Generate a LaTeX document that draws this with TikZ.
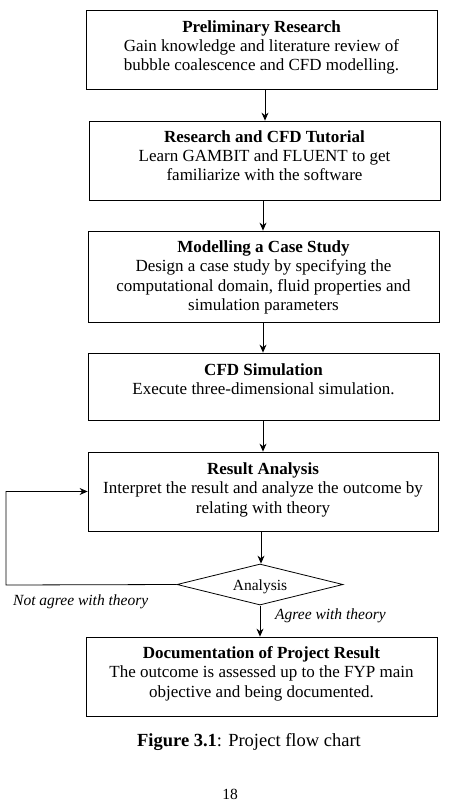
\documentclass[tikz,border=0pt]{standalone}
\usepackage{fontspec}
\setmainfont{Liberation Serif}
\usetikzlibrary{shapes.geometric,arrows.meta}
\begin{document}
\begin{tikzpicture}[x=1pt,y=-1pt,
  box/.style={draw,line width=0.8pt,rectangle,minimum width=351pt,inner sep=0pt},
  txt/.style={anchor=north,align=center,font=\fontsize{17}{19.2}\selectfont,inner sep=0pt},
  arr/.style={line width=0.8pt,-{Stealth[length=8pt,width=7pt]}},
  lab/.style={font=\fontsize{15.5}{17}\selectfont\itshape,inner sep=0pt}]
\useasboundingbox (0,0) rectangle (448,803);
\node[box,minimum height=79pt] (b1) at (261.5,49.5) {};
\node[txt] (t1) at ([yshift=-11pt]b1.north) {\textbf{Preliminary Research}\\Gain knowledge and literature review of\\bubble coalescence and CFD modelling.};
\node[box,minimum height=79pt] (b2) at (264.5,160.5) {};
\node[txt] (t2) at ([yshift=-10pt]b2.north) {\textbf{Research and CFD Tutorial}\\Learn GAMBIT and FLUENT to get\\familiarize with the software};
\node[box,minimum height=91pt] (b3) at (263.5,276.5) {};
\node[txt] (t3) at ([yshift=-10pt]b3.north) {\textbf{Modelling a Case Study}\\Design a case study by specifying the\\computational domain, fluid properties and\\simulation parameters};
\node[box,minimum height=67pt] (b4) at (263.5,386.5) {};
\node[txt] (t4) at ([yshift=-11pt]b4.north) {\textbf{CFD Simulation}\\Execute three-dimensional simulation.};
\node[box,minimum height=79pt,minimum width=350pt] (b5) at (263,491.5) {};
\node[txt] (t5) at ([yshift=-11pt]b5.north) {\textbf{Result Analysis}\\Interpret the result and analyze the outcome by\\relating with theory};
\node[draw,line width=0.8pt,diamond,minimum width=166pt,minimum height=41pt,inner sep=0pt,aspect=4] (d) at (260,584.5) {};
\node[font=\fontsize{15.5}{19.5}\selectfont,inner sep=0pt] (dt) at (260,587) {Analysis};
\node[box,minimum height=79pt] (b6) at (261.5,676.5) {};
\node[txt] (t6) at ([yshift=-10pt]b6.north) {\textbf{Documentation of Project Result}\\The outcome is assessed up to the FYP main\\objective and being documented.};
\node[font=\fontsize{18.5}{21}\selectfont,inner sep=0pt] (cap) at (249,742) {\textbf{Figure 3.1}: Project flow chart};
\node[font=\fontsize{15.5}{17}\selectfont,inner sep=0pt,anchor=south] (pg) at (230,800) {18};
\coordinate (p1) at (265,89);
\draw[arr] (p1) -- (p1 |- b2.north);
\coordinate (p2) at (263,200);
\draw[arr] (p2) -- (p2 |- b3.north);
\coordinate (p3) at (263,322);
\draw[arr] (p3) -- (p3 |- b4.north);
\coordinate (p4) at (263,420);
\draw[arr] (p4) -- (p4 |- b5.north);
\coordinate (p5) at (261,531);
\draw[arr] (p5) -- (p5 |- d.north);
\coordinate (p6) at (260,606);
\draw[arr] (p6) -- (p6 |- b6.north);
\coordinate (lc) at (6,585);
\draw[arr] (d.west) -- (lc) -- (lc |- b5.west) -- (b5.west);
\node[lab,anchor=west] (na) at (13,602) {Not agree with theory};
\node[lab,anchor=west] (ag) at (275,616) {Agree with theory};
\end{tikzpicture}
\end{document}
